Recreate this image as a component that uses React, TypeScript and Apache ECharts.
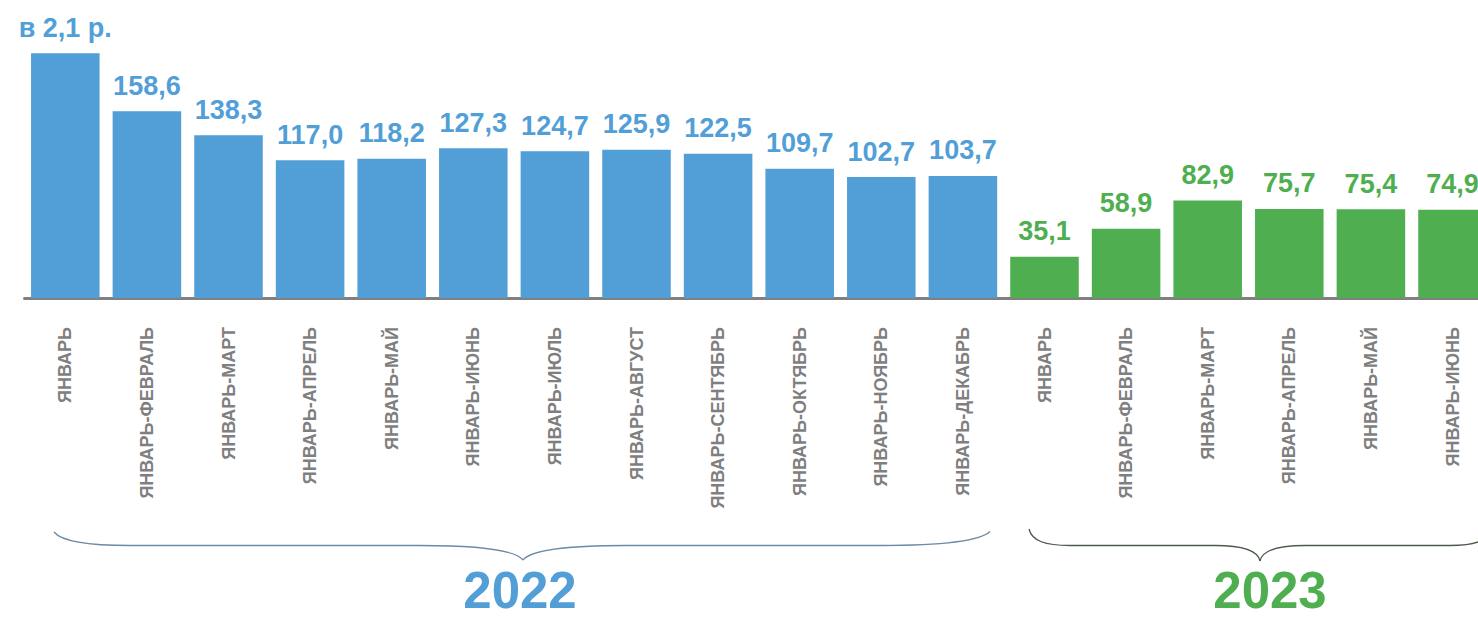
import React, { useEffect, useRef } from "react";
import * as echarts from "echarts";

const months2022 = [
  "ЯНВАРЬ",
  "ЯНВАРЬ-ФЕВРАЛЬ",
  "ЯНВАРЬ-МАРТ",
  "ЯНВАРЬ-АПРЕЛЬ",
  "ЯНВАРЬ-МАЙ",
  "ЯНВАРЬ-ИЮНЬ",
  "ЯНВАРЬ-ИЮЛЬ",
  "ЯНВАРЬ-АВГУСТ",
  "ЯНВАРЬ-СЕНТЯБРЬ",
  "ЯНВАРЬ-ОКТЯБРЬ",
  "ЯНВАРЬ-НОЯБРЬ",
  "ЯНВАРЬ-ДЕКАБРЬ",
];
const months2023 = [
  "ЯНВАРЬ",
  "ЯНВАРЬ-ФЕВРАЛЬ",
  "ЯНВАРЬ-МАРТ",
  "ЯНВАРЬ-АПРЕЛЬ",
  "ЯНВАРЬ-МАЙ",
  "ЯНВАРЬ-ИЮНЬ",
];
const values2022 = [208.0, 158.6, 138.3, 117.0, 118.2, 127.3, 124.7, 125.9, 122.5, 109.7, 102.7, 103.7];
const values2023 = [35.1, 58.9, 82.9, 75.7, 75.4, 74.9];
const firstBarLabel = "в 2,1 р.";
const years = ["2022", "2023"];

const BLUE = "#529fd7";
const GREEN = "#4faf50";
const FONT = "'Liberation Sans', Arial, sans-serif";

export default function App() {
  const ref = useRef<HTMLDivElement>(null);

  useEffect(() => {
    if (!ref.current) return;
    const chart = echarts.init(ref.current, undefined, { renderer: "svg" });

    const categories = [...months2022, ...months2023];
    const data = [
      ...values2022.map((v) => ({ value: v, itemStyle: { color: BLUE }, label: { color: BLUE } })),
      ...values2023.map((v) => ({ value: v, itemStyle: { color: GREEN }, label: { color: GREEN } })),
    ];

    const lineStyle22 = { stroke: "#6a8aa5", lineWidth: 1.3, fill: null as any };
    const lineStyle23 = { stroke: "#4d5b4b", lineWidth: 1.3, fill: null as any };

    const bez = (p: number[], style: any) => ({
      type: "bezierCurve",
      silent: true,
      shape: { x1: p[0], y1: p[1], cpx1: p[2], cpy1: p[3], cpx2: p[4], cpy2: p[5], x2: p[6], y2: p[7] },
      style,
    });
    const ln = (x1: number, x2: number, y: number, style: any) => ({
      type: "line",
      silent: true,
      shape: { x1, y1: y, x2, y2: y },
      style,
    });

    const Y = 545.5;
    const graphic: any[] = [
      // 2022 brace
      bez([54, 532, 62, 542, 90, Y, 130, Y], lineStyle22),
      ln(130, 420, Y, lineStyle22),
      bez([420, Y, 480, Y, 515, 550, 523, 560], lineStyle22),
      bez([523, 560, 531, 550, 566, Y, 626, Y], lineStyle22),
      ln(626, 880, Y, lineStyle22),
      bez([880, Y, 940, Y, 980, 541, 990, 531.5], lineStyle22),
      // 2023 brace
      bez([1029, 529, 1032, 541, 1045, Y, 1070, Y], lineStyle23),
      ln(1070, 1215, Y, lineStyle23),
      bez([1215, Y, 1245, Y, 1258, 551, 1260, 561], lineStyle23),
      bez([1260, 561, 1262, 551, 1275, Y, 1305, Y], lineStyle23),
      ln(1305, 1450, Y, lineStyle23),
      bez([1450, Y, 1475, Y, 1488, 541, 1491, 529], lineStyle23),
      {
        type: "text",
        silent: true,
        x: 520,
        y: 590,
        style: {
          text: years[0],
          fill: BLUE,
          font: `bold 51px ${FONT}`,
          align: "center",
          verticalAlign: "middle",
        },
      },
      {
        type: "text",
        silent: true,
        x: 1270,
        y: 590,
        style: {
          text: years[1],
          fill: GREEN,
          font: `bold 51px ${FONT}`,
          align: "center",
          verticalAlign: "middle",
        },
      },
    ];

    chart.setOption({
      animation: false,
      grid: { left: 24.5, top: 39, width: 1468.8, height: 259 },
      xAxis: {
        type: "category",
        data: categories,
        offset: 2,
        axisTick: { show: false },
        axisLine: { lineStyle: { color: "#808080", width: 3 } },
        axisLabel: {
          interval: 0,
          rotate: 90,
          margin: 27,
          color: "#7f7f7f",
          fontSize: 18,
          fontWeight: "bold",
          fontFamily: FONT,
        },
      },
      yAxis: { type: "value", min: 0, max: 220, show: false, splitLine: { show: false } },
      series: [
        {
          type: "bar",
          data,
          barWidth: "84%",
          label: {
            show: true,
            position: "top",
            distance: 12,
            fontSize: 27,
            fontWeight: "bold",
            fontFamily: FONT,
            formatter: (p: any) =>
              p.dataIndex === 0 ? firstBarLabel : Number(p.value).toFixed(1).replace(".", ","),
          },
        },
      ],
      graphic,
    });

    return () => chart.dispose();
  }, []);

  return (
    <div
      style={{
        position: "fixed",
        left: 0,
        top: 0,
        width: 1478,
        height: 619,
        overflow: "hidden",
        background: "#fff",
      }}
    >
      <div ref={ref} style={{ width: 1500, height: 619 }} />
    </div>
  );
}
